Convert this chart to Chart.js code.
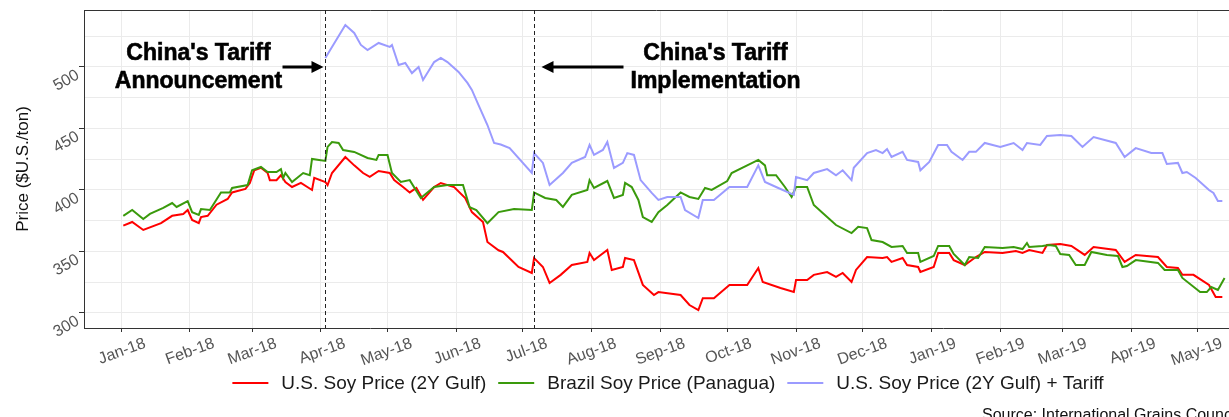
<!DOCTYPE html>
<html>
<head>
<meta charset="utf-8">
<script src="https://cdn.jsdelivr.net/npm/chart.js@4.4.0/dist/chart.umd.min.js"></script>
<style>
  html, body { margin: 0; padding: 0; background: #fff; }
</style>
</head>
<body>
<canvas id="soyChart" width="1229" height="417"></canvas>
<script>
// U.S. soy price (2Y Gulf), $/ton
const usDates = ['2018-01-02','2018-01-06','2018-01-11','2018-01-19','2018-01-24','2018-01-29','2018-01-31','2018-02-02','2018-02-05','2018-02-06','2018-02-09','2018-02-13','2018-02-18','2018-02-20','2018-02-26','2018-02-28','2018-03-02','2018-03-05','2018-03-08','2018-03-09','2018-03-12','2018-03-14','2018-03-16','2018-03-19','2018-03-23','2018-03-28','2018-03-29','2018-04-03','2018-04-04','2018-04-06','2018-04-12','2018-04-16','2018-04-20','2018-04-23','2018-04-27','2018-05-02','2018-05-04','2018-05-08','2018-05-11','2018-05-14','2018-05-17','2018-05-22','2018-05-25','2018-05-31','2018-06-05','2018-06-08','2018-06-13','2018-06-15','2018-06-20','2018-06-22','2018-06-29','2018-07-05','2018-07-06','2018-07-10','2018-07-13','2018-07-18','2018-07-23','2018-07-30','2018-07-31','2018-08-02','2018-08-08','2018-08-10','2018-08-15','2018-08-16','2018-08-20','2018-08-24','2018-08-29','2018-08-31','2018-09-10','2018-09-14','2018-09-18','2018-09-20','2018-09-25','2018-10-02','2018-10-10','2018-10-15','2018-10-17','2018-10-25','2018-10-31','2018-11-01','2018-11-06','2018-11-09','2018-11-15','2018-11-19','2018-11-22','2018-11-26','2018-11-28','2018-12-03','2018-12-10','2018-12-12','2018-12-14','2018-12-19','2018-12-21','2018-12-26','2018-12-27','2019-01-02','2019-01-04','2019-01-09','2019-01-11','2019-01-16','2019-01-21','2019-01-25','2019-02-02','2019-02-08','2019-02-11','2019-02-14','2019-02-20','2019-02-22','2019-02-28','2019-03-05','2019-03-11','2019-03-15','2019-03-25','2019-03-29','2019-04-03','2019-04-13','2019-04-17','2019-04-22','2019-04-24','2019-04-29','2019-05-06','2019-05-09','2019-05-12'];
const usPrice = [371,374,367.5,373,379,380.5,383.7,375.6,373,378,379,388,392.7,398,400.8,405.7,416,418,413.8,408,408,412,406.5,402.4,405.7,400,409.8,406.5,404,413.8,426.8,420,413.8,410.6,415.4,413.8,408,402.4,398,401.6,392,402.4,405.7,402.4,393.5,382,374,357.7,351,349.6,337.4,332.5,344.7,337.4,324.4,331,339,341.5,348.8,343,351.2,335,337.4,344.7,343,322.8,314.6,317,314.6,306.5,302.4,312,312,322.8,322.8,336.6,325.2,320.3,317,326.8,326.8,331,333.3,329.3,332.5,325.2,335,345.5,344.7,345.5,341.5,344.7,339,337.4,333.3,337.4,348.8,348.8,343,339,345.5,349.6,348.8,350.4,348.8,351.2,348.8,355.3,356,354.5,347.2,353.7,351.2,341.5,347.2,345.5,337.4,336.6,331,331,322.8,313,313];

// Brazil soy price (Paranagua), $/ton
const brDates = ['2018-01-02','2018-01-06','2018-01-11','2018-01-14','2018-01-20','2018-01-24','2018-01-26','2018-01-31','2018-02-02','2018-02-05','2018-02-06','2018-02-10','2018-02-15','2018-02-19','2018-02-20','2018-02-27','2018-03-01','2018-03-05','2018-03-08','2018-03-12','2018-03-14','2018-03-15','2018-03-16','2018-03-19','2018-03-24','2018-03-27','2018-03-28','2018-04-03','2018-04-04','2018-04-06','2018-04-09','2018-04-11','2018-04-16','2018-04-22','2018-04-26','2018-04-27','2018-05-01','2018-05-03','2018-05-07','2018-05-11','2018-05-16','2018-05-22','2018-05-28','2018-06-04','2018-06-07','2018-06-10','2018-06-15','2018-06-20','2018-06-27','2018-07-05','2018-07-06','2018-07-11','2018-07-16','2018-07-19','2018-07-23','2018-07-30','2018-07-31','2018-08-02','2018-08-08','2018-08-11','2018-08-15','2018-08-16','2018-08-19','2018-08-22','2018-08-24','2018-08-28','2018-08-31','2018-09-04','2018-09-10','2018-09-14','2018-09-18','2018-09-21','2018-09-24','2018-10-01','2018-10-03','2018-10-10','2018-10-15','2018-10-18','2018-10-19','2018-10-23','2018-10-27','2018-10-30','2018-11-01','2018-11-06','2018-11-09','2018-11-13','2018-11-19','2018-11-26','2018-11-29','2018-12-03','2018-12-05','2018-12-10','2018-12-14','2018-12-19','2018-12-21','2018-12-26','2018-12-27','2019-01-02','2019-01-04','2019-01-09','2019-01-11','2019-01-16','2019-01-18','2019-01-22','2019-01-25','2019-02-02','2019-02-07','2019-02-11','2019-02-13','2019-02-14','2019-02-20','2019-02-23','2019-02-26','2019-02-28','2019-03-04','2019-03-07','2019-03-11','2019-03-14','2019-03-21','2019-03-26','2019-03-28','2019-03-30','2019-04-03','2019-04-13','2019-04-16','2019-04-22','2019-04-24','2019-05-02','2019-05-05','2019-05-07','2019-05-10','2019-05-13'];
const brPrice = [379,383.7,376.4,380.5,385.4,389.4,386.2,391,382,379.7,384.5,383.7,398,398,401.6,404,416,418.7,414.6,414.6,417,409.8,413.8,406.5,413.8,412,425.2,423.6,435,439,438.2,432.5,430.9,426,424.4,428.5,428.5,413.8,406.5,408,393.5,402.4,404,404,386,383.7,373,382,384.5,383.7,398,393.5,391.9,386.2,396,400,408,401.6,407.3,393.5,396,405.7,402.4,391.9,378,374,382,387.8,398,394.3,392.7,401.6,400,407.3,413.8,420,424.4,420,412,412,402.4,394.3,402.4,402.4,387.8,381.3,371.5,365,370,369,359.3,357.7,353.7,354.5,348.8,348.8,341.5,346.3,354.5,354.5,348,339,345.5,344.7,353.7,352.8,353.7,352,356.9,353.7,354.5,355.3,354.5,348,347.2,339,339,349.6,347.2,346.3,337.4,338.2,343,340.7,335,335,328.5,317,317,321.1,318.7,328.5];

// U.S. soy price (2Y Gulf) + tariff, $/ton
const tariffDates = ['2018-04-03','2018-04-06','2018-04-12','2018-04-16','2018-04-19','2018-04-22','2018-04-27','2018-05-02','2018-05-03','2018-05-06','2018-05-09','2018-05-12','2018-05-15','2018-05-17','2018-05-22','2018-05-25','2018-05-28','2018-06-02','2018-06-06','2018-06-08','2018-06-11','2018-06-15','2018-06-18','2018-06-21','2018-06-25','2018-07-05','2018-07-06','2018-07-10','2018-07-13','2018-07-19','2018-07-23','2018-07-29','2018-07-31','2018-08-02','2018-08-06','2018-08-08','2018-08-11','2018-08-15','2018-08-17','2018-08-20','2018-08-23','2018-08-28','2018-08-31','2018-09-04','2018-09-10','2018-09-12','2018-09-18','2018-09-20','2018-09-25','2018-10-02','2018-10-10','2018-10-15','2018-10-18','2018-10-24','2018-10-31','2018-11-01','2018-11-06','2018-11-09','2018-11-15','2018-11-19','2018-11-22','2018-11-26','2018-11-27','2018-12-03','2018-12-07','2018-12-10','2018-12-12','2018-12-14','2018-12-19','2018-12-21','2018-12-26','2018-12-27','2018-12-31','2019-01-04','2019-01-08','2019-01-10','2019-01-15','2019-01-18','2019-01-21','2019-01-25','2019-02-01','2019-02-07','2019-02-11','2019-02-13','2019-02-19','2019-02-22','2019-02-28','2019-03-05','2019-03-10','2019-03-15','2019-03-25','2019-03-29','2019-04-03','2019-04-10','2019-04-15','2019-04-17','2019-04-22','2019-04-24','2019-04-26','2019-04-30','2019-05-06','2019-05-08','2019-05-10','2019-05-12'];
const tariffPrice = [507.3,516.3,534.1,527.6,517.9,513.8,519.5,516.3,517.9,501.6,503.2,495,500,489.4,504,507.3,504,496,487,481.3,469,452.8,438.2,437,434,413.8,430,422,404,413.8,422,426.8,436.6,428.5,432.5,439,417.9,422,430,428.5,408,397.6,391.9,394.3,394.3,383.7,377.2,391.9,391.9,402.4,402.4,420,406.5,401.6,396,410.6,408,413.8,417,412,416,408,418,430,432.5,430,433.3,426.8,431,424.4,422.8,416,422.8,436.6,436.6,431,424.4,431,431,438.2,435,438.2,432.5,438.2,436.6,443.9,444.7,443.9,435,443,438.2,426.8,434,430,430,421.1,422,413.8,414.6,409.8,400,397.6,391,391];

const monthTicks = ['2018-01-01','2018-02-01','2018-03-01','2018-04-01','2018-05-01','2018-06-01','2018-07-01','2018-08-01','2018-09-01','2018-10-01','2018-11-01','2018-12-01','2019-01-01','2019-02-01','2019-03-01','2019-04-01','2019-05-01'];
const monthLabels = ['Jan-18','Feb-18','Mar-18','Apr-18','May-18','Jun-18','Jul-18','Aug-18','Sep-18','Oct-18','Nov-18','Dec-18','Jan-19','Feb-19','Mar-19','Apr-19','May-19'];
const yTicks = [300, 325, 350, 375, 400, 425, 450, 475, 500, 525];

const announceDate = '2018-04-03';
const implementDate = '2018-07-06';

const seriesNames = ['U.S. Soy Price (2Y Gulf)', 'Brazil Soy Price (Panagua)', 'U.S. Soy Price (2Y Gulf) + Tariff'];
const seriesColors = ['#ff0000', '#3a9a0c', '#9b9bff'];

const FONT = '"Liberation Sans", Arial, sans-serif';

// days since 2018-01-01
function dayNum(s) {
  const p = s.split('-').map(Number);
  return (Date.UTC(p[0], p[1] - 1, p[2]) - Date.UTC(2018, 0, 1)) / 864e5;
}
function toPoints(dates, vals) {
  return dates.map((d, i) => ({ x: dayNum(d), y: vals[i] }));
}

const decorations = {
  id: 'decorations',
  afterDatasetsDraw(chart) {
    const { ctx, chartArea: a, scales: { x, y } } = chart;
    ctx.save();

    // top of panel border
    ctx.strokeStyle = '#333';
    ctx.lineWidth = 1;
    ctx.beginPath();
    ctx.moveTo(a.left, a.top + 0.5);
    ctx.lineTo(a.right, a.top + 0.5);
    ctx.stroke();

    // dashed event lines
    ctx.strokeStyle = '#222';
    ctx.setLineDash([4, 3]);
    const evX = [announceDate, implementDate].map(d => Math.round(x.getPixelForValue(dayNum(d))) + 0.5);
    evX.forEach(px => {
      ctx.beginPath();
      ctx.moveTo(px, a.top);
      ctx.lineTo(px, a.bottom);
      ctx.stroke();
    });
    ctx.setLineDash([]);

    // annotations + arrows
    const arrowY = y.getPixelForValue(500);
    const notes = [
      { px: evX[0], lines: ["China's Tariff", 'Announcement'], dx: -127, from: -43, to: -2 },
      { px: evX[1], lines: ["China's Tariff", 'Implementation'], dx: 181, from: 89, to: 7 }
    ];
    ctx.font = 'bold 23px ' + FONT;
    ctx.textAlign = 'center';
    ctx.textBaseline = 'middle';
    ctx.fillStyle = '#000';
    ctx.strokeStyle = '#000';
    notes.forEach(n => {
      n.lines.forEach((t, i) => {
        ctx.lineWidth = 0.6;
        ctx.fillText(t, n.px + n.dx, arrowY - 13 + i * 28);
        ctx.strokeText(t, n.px + n.dx, arrowY - 13 + i * 28);
      });
      const x0 = n.px + n.from, x1 = n.px + n.to;
      const dir = Math.sign(x1 - x0);
      ctx.lineWidth = 3;
      ctx.beginPath();
      ctx.moveTo(x0, arrowY);
      ctx.lineTo(x1 - dir * 8, arrowY);
      ctx.stroke();
      ctx.beginPath();
      ctx.moveTo(x1, arrowY);
      ctx.lineTo(x1 - dir * 12, arrowY - 6);
      ctx.lineTo(x1 - dir * 12, arrowY + 6);
      ctx.closePath();
      ctx.fill();
    });
    ctx.restore();
  },
  afterDraw(chart) {
    const { ctx } = chart;
    ctx.save();
    // legend
    ctx.font = '19px ' + FONT;
    ctx.textBaseline = 'middle';
    ctx.textAlign = 'left';
    const widths = seriesNames.map(t => ctx.measureText(t).width);
    const total = widths.reduce((s, w) => s + w + 36 + 13, 0) + 12 * (seriesNames.length - 1);
    let lx = 668 - total / 2;
    const ly = 383;
    seriesNames.forEach((t, i) => {
      ctx.strokeStyle = seriesColors[i];
      ctx.lineWidth = 2;
      ctx.beginPath();
      ctx.moveTo(lx, ly);
      ctx.lineTo(lx + 36, ly);
      ctx.stroke();
      ctx.fillStyle = '#1a1a1a';
      ctx.fillText(t, lx + 49, ly + 1);
      lx += 36 + 13 + widths[i] + 12;
    });
    // source note
    ctx.font = '16px ' + FONT;
    ctx.textBaseline = 'alphabetic';
    ctx.fillStyle = '#111';
    ctx.fillText('Source: International Grains Council', 982, 420);
    ctx.restore();
  }
};

const datasets = [
  { label: seriesNames[0], data: toPoints(usDates, usPrice), borderColor: seriesColors[0], order: 3 },
  { label: seriesNames[1], data: toPoints(brDates, brPrice), borderColor: seriesColors[1], order: 2 },
  { label: seriesNames[2], data: toPoints(tariffDates, tariffPrice), borderColor: seriesColors[2], order: 1 }
].map(d => Object.assign(d, { borderWidth: 2, pointRadius: 0, tension: 0, fill: false }));

new Chart(document.getElementById('soyChart').getContext('2d'), {
  type: 'line',
  data: { datasets },
  options: {
    responsive: false,
    animation: false,
    layout: { padding: { top: 10, left: 0, right: 0, bottom: 0 } },
    plugins: { legend: { display: false }, tooltip: { enabled: false } },
    scales: {
      x: {
        type: 'linear',
        min: -16.7,
        max: 499,
        afterBuildTicks: s => { s.ticks = monthTicks.map(d => ({ value: dayNum(d) })); },
        afterFit: s => { s.height = 89; s.paddingLeft = 0; s.paddingRight = 0; },
        ticks: {
          autoSkip: false, minRotation: 20, maxRotation: 20, labelOffset: 24, padding: 2,
          color: '#555', font: { family: FONT, size: 16 },
          callback: (v, i) => monthLabels[i]
        },
        grid: { color: '#ebebeb', tickColor: '#333', tickLength: 4 },
        border: { color: '#333' }
      },
      y: {
        min: 287.8,
        max: 546.3,
        afterBuildTicks: s => { s.ticks = yTicks.map(v => ({ value: v })); },
        afterFit: s => { s.width = 84; s.paddingTop = 0; s.paddingBottom = 0; },
        ticks: {
          minRotation: 30, maxRotation: 30, padding: 1, labelOffset: 7,
          color: '#555', font: { family: FONT, size: 16 },
          callback: v => (v % 50 === 0 ? v : '')
        },
        grid: {
          color: '#ebebeb', tickLength: 5,
          tickColor: c => (c.tick && c.tick.value % 50 === 0 ? '#333' : 'rgba(0,0,0,0)')
        },
        border: { color: '#333' },
        title: {
          display: true, text: 'Price ($U.S./ton)', color: '#111',
          font: { family: FONT, size: 17 }, padding: { top: 13, bottom: 0 }
        }
      }
    }
  },
  plugins: [decorations]
});
</script>
</body>
</html>
